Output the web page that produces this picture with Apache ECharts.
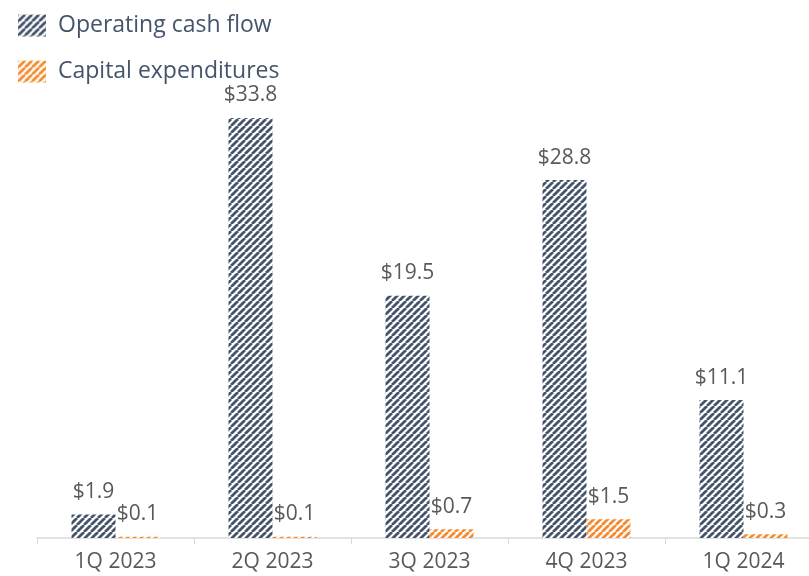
<!DOCTYPE html>
<html>
<head>
<meta charset="utf-8">
<script src="https://cdn.jsdelivr.net/npm/echarts@6/dist/echarts.min.js"></script>
<style>
    html, body { margin: 0; padding: 0; background: #fff; }
    #chart { width: 809px; height: 576px; }
</style>
</head>
<body>
<div id="chart"></div>
<script>
const quarters = ['1Q 2023', '2Q 2023', '3Q 2023', '4Q 2023', '1Q 2024']
const operatingCashFlow = [1.9, 33.8, 19.5, 28.8, 11.1]
const capitalExpenditures = [0.1, 0.1, 0.7, 1.5, 0.3]

// diagonal hatch fill, like the office "wide upward diagonal" pattern
function hatch(color) {
    const size = 7
    const c = document.createElement('canvas')
    c.width = size
    c.height = size
    const ctx = c.getContext('2d')
    ctx.fillStyle = '#ffffff'
    ctx.fillRect(0, 0, size, size)
    ctx.strokeStyle = color
    ctx.lineWidth = 2.8
    ctx.beginPath()
    for (let k = -1; k <= 1; k++) {
        ctx.moveTo(k * size, size)
        ctx.lineTo(k * size + size, 0)
    }
    ctx.stroke()
    return { image: c, repeat: 'repeat' }
}

const chart = echarts.init(document.getElementById('chart'), null, { renderer: 'canvas' })

const labelStyle = {
    show: true,
    position: 'top',
    distance: 12,
    fontFamily: 'Open Sans',
    fontSize: 21,
    color: '#595959',
    formatter: p => '$' + p.value.toFixed(1)
}

chart.setOption({
    animation: false,
    grid: {
        left: 37,
        right: -13,
        top: 103,
        bottom: 38,
        outerBoundsMode: 'none'
    },
    legend: {
        orient: 'vertical',
        left: 18,
        top: 14,
        padding: 0,
        itemWidth: 28,
        itemHeight: 22,
        itemGap: 23,
        icon: 'rect',
        textStyle: {
            fontFamily: 'Open Sans',
            fontSize: 23,
            lineHeight: 22,
            color: '#44546A',
            padding: [0, 0, 0, 7]
        },
        data: ['Operating cash flow', 'Capital expenditures']
    },
    xAxis: {
        type: 'category',
        data: quarters,
        axisLine: { lineStyle: { color: '#D9D9D9', width: 1.5 } },
        axisTick: { show: true, length: 6, lineStyle: { color: '#D9D9D9' } },
        axisLabel: {
            fontFamily: 'Open Sans',
            fontSize: 21,
            color: '#595959',
            margin: 14
        }
    },
    yAxis: {
        type: 'value',
        min: 0,
        max: 35,
        show: false,
        splitLine: { show: false }
    },
    series: [
        {
            name: 'Operating cash flow',
            type: 'bar',
            data: operatingCashFlow,
            barWidth: 44,
            barGap: '0%',
            itemStyle: { color: hatch('#44546A') },
            label: labelStyle
        },
        {
            name: 'Capital expenditures',
            type: 'bar',
            data: capitalExpenditures,
            barWidth: 44,
            itemStyle: { color: hatch('#F58A2F') },
            label: labelStyle
        }
    ]
})
</script>
</body>
</html>
